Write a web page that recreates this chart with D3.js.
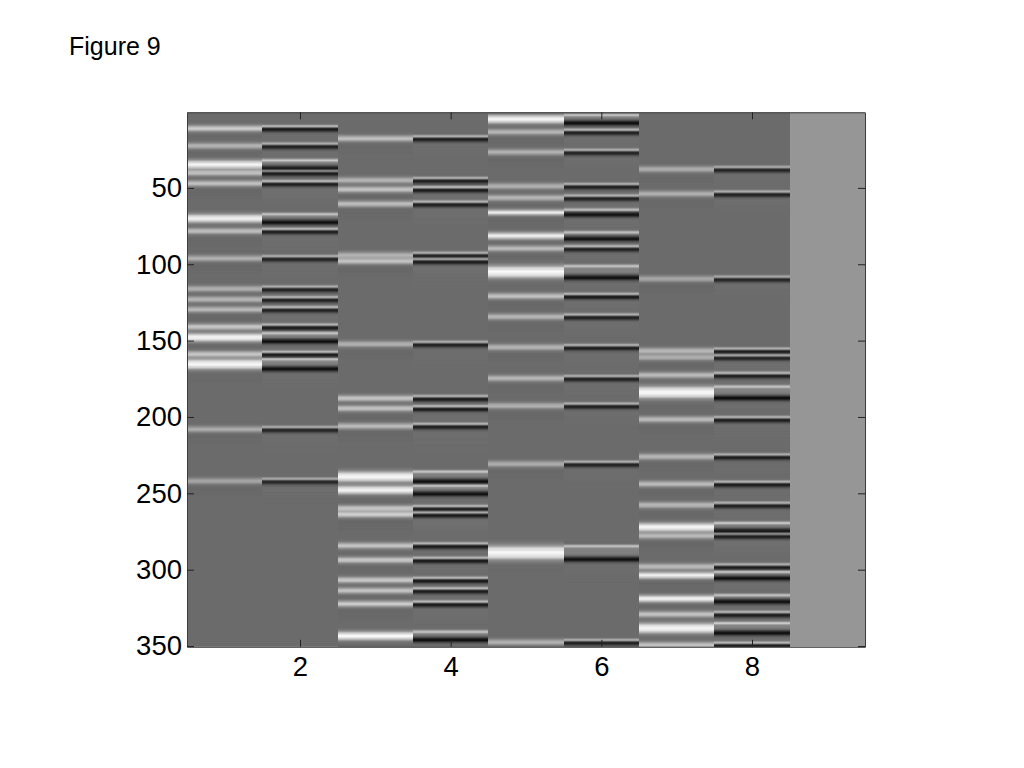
<!DOCTYPE html>
<html><head><meta charset="utf-8">
<script src="https://cdn.jsdelivr.net/npm/d3@7"></script>
<style>html,body{margin:0;padding:0;background:#fff}svg{display:block}text{font-family:"Liberation Sans",Arial,sans-serif;fill:#000}</style>
</head><body><svg id="c" width="1024" height="768"></svg>
<script>
// [row, band height in rows, peak grey]
const bandsCol1=[[11.1,3,205],[22.5,3,182],[34.7,6,245],[40.2,3,195],[47.1,3,195],[70,6,242],[78.3,3,192],[96.2,3,178],[116.1,3,176],[123,3,184],[129.6,3,188],[141,3,200],[147.9,6,248],[158.8,3,198],[165.4,7,250],[208.1,3,172],[242,3,166]];
const bandsCol3=[[17.7,3,192],[45,3,182],[51,3,198],[60.5,3,192],[94,3,178],[98,3,198],[152.3,3,178],[187.8,3,198],[194.4,3,198],[206,3,188],[239.1,7,248],[247.8,6,245],[259.8,3,198],[263.9,3,210],[284.3,3,198],[293.7,3,202],[306.8,3,202],[313.7,3,198],[322.4,3,205],[343.4,6,250]];
const bandsCol5=[[5,6,245],[13.4,3,184],[26.6,3,178],[48.9,3,178],[56.5,3,184],[66.1,4,240],[81.4,5,238],[89.7,3,188],[105,8,250],[120.9,3,194],[134.4,3,184],[154.4,3,182],[174.7,3,184],[192.7,3,178],[230.8,3,174],[288.9,9,248],[347.5,3,178]];
const bandsCol7=[[37.8,3,174],[53.9,3,178],[109.6,3,168],[156.7,3,184],[161,3,178],[172.6,3,188],[183.9,8,250],[201.6,3,188],[226,3,184],[243.9,3,188],[257.7,3,186],[272.2,6,248],[277.9,3,188],[298,3,188],[303.7,5,240],[319,5,244],[329.2,3,198],[338.3,7,248],[349.3,3,198]];
const bandColumns=[1,3,5,7];
const bandSets=[bandsCol1,bandsCol3,bandsCol5,bandsCol7];
const columnGrey=[107,107,107,107,107,107,107,107,150];
const xTicks=[2,4,6,8];
const yTicks=[50,100,150,200,250,300,350];
const figureTitle="Figure 9";

const svg=d3.select("#c");
const x=d3.scaleLinear().domain([0.5,9.5]).range([187,865]);
const y=d3.scaleLinear().domain([0.5,350.5]).range([112.3,646.8]);
const px=v=>Math.round(x(v));
const grey=v=>{const g=Math.round(Math.max(0,Math.min(255,v)));return d3.rgb(g,g,g).formatHex();};
const gauss=(d,s)=>Math.exp(-d*d/(2*s*s));
const BG=107;
const samples=d3.range(1,350.51,0.5);
function brightAt(r,bands){let v=BG;for(const [c,h,p] of bands){
  const e=Math.abs(r-c);const below=r-c-h/2;
  const f=h>3?Math.max(gauss(Math.max(0,e-(h-4)/2),1.4)*0.82,gauss(e,(h-1)/2.6)):gauss(e,1.45);
  v+=(p-BG)*f;if(below>0)v-=5*Math.exp(-below/4);}return v;}
function edgeAt(r,bands){let v=BG;for(const [c,h,p] of bands){const s=(p-BG)/100;const lightC=c-(h-3)*0.5-1.4,darkC=c+(h-3)*0.6+0.6;
  const wide=h>3;v+=(wide?70:100)*(0.6+0.4*s)*gauss(r-lightC,0.7);
  v-=(55+35*s)*gauss(r-darkC,wide?1.35:1.2);
  if(r>lightC&&r<darkC&&wide)v+=22;
  if(r>darkC)v+=6*Math.exp(-(r-darkC)/7);}return v;}

const g=svg.append("g");
g.selectAll("rect.col").data(columnGrey).join("rect").attr("class","col")
 .attr("x",(d,i)=>px(i+0.5)).attr("width",(d,i)=>px(i+1.5)-px(i+0.5))
 .attr("y",y(0.5)).attr("height",y(350.5)-y(0.5)).attr("fill",d=>grey(d));
const cells=[];
bandSets.forEach((bands,k)=>{const col=bandColumns[k];
 samples.forEach(r=>{const a=brightAt(r,bands),b=edgeAt(r,bands);
  if(Math.abs(a-BG)>0.7)cells.push({col,r,v:a});
  if(Math.abs(b-BG)>0.7)cells.push({col:col+1,r,v:b});});});
g.selectAll("rect.cell").data(cells).join("rect").attr("class","cell")
 .attr("x",d=>px(d.col-0.5)).attr("width",d=>px(d.col+0.5)-px(d.col-0.5))
 .attr("y",d=>y(d.r-0.25)).attr("height",d=>Math.min(y(d.r+0.25)-y(d.r-0.25)+0.6,y(350.5)-y(d.r-0.25)))
 .attr("fill",d=>grey(d.v));

const style=s=>{s.selectAll(".domain").attr("stroke","#3c3c3c").attr("stroke-width",1);
 s.selectAll(".tick line").attr("stroke","#222").attr("stroke-width",1);
 s.selectAll("text").attr("font-size",27.5).attr("font-family",'"Liberation Sans",Arial,sans-serif').attr("fill","#000");};
svg.append("g").attr("transform",`translate(0,${y(350.5)})`).call(d3.axisBottom(x).tickValues(xTicks).tickSize(-7).tickSizeOuter(0).tickPadding(10)).call(style);
svg.append("g").attr("transform",`translate(0,${y(0.5)})`).call(d3.axisTop(x).tickValues(xTicks).tickSize(-7).tickSizeOuter(0).tickFormat("")).call(style);
svg.append("g").attr("transform",`translate(${x(0.5)},0)`).call(d3.axisLeft(y).tickValues(yTicks).tickSize(-7).tickSizeOuter(0).tickPadding(5)).call(style);
svg.append("g").attr("transform",`translate(${x(9.5)},0)`).call(d3.axisRight(y).tickValues(yTicks).tickSize(-7).tickSizeOuter(0).tickFormat("")).call(style);
svg.append("text").attr("x",69).attr("y",55).attr("font-size",25).text(figureTitle);
</script></body></html>
